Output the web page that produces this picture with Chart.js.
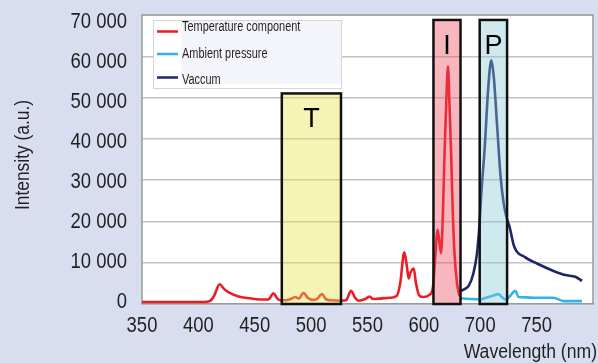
<!DOCTYPE html>
<html>
<head>
<meta charset="utf-8">
<script src="https://cdn.jsdelivr.net/npm/chart.js@4"></script>
<style>
  body { margin: 0; background: #d8deef; }
  #wrap { width: 598px; height: 363px; position: relative; }
</style>
</head>
<body>
<div id="wrap"><canvas id="spectrum" width="598" height="363"></canvas></div>
<script>
// Spectrum data (x in axis units, y in a.u.)
const tempX = [350, 405, 410, 414, 418.8, 423, 427, 435, 445, 455, 462, 466.7, 470, 473, 478, 481, 486, 489, 493.3, 497, 501, 505, 509.6, 513, 518, 527, 531, 535.4, 539, 542, 548, 551.9, 555, 560, 570, 576, 579, 582.6, 585, 586.5, 588, 591, 593, 596, 600, 605, 608, 610, 612.2, 615.2, 617, 618.4, 620, 621.4, 622.5, 624.1, 625.5, 627, 629.4, 631.7];
const tempY = [500, 500, 700, 2000, 4800, 3600, 2800, 1900, 1400, 1100, 1100, 2600, 1300, 900, 900, 1100, 1700, 1300, 2700, 1500, 1000, 1200, 2400, 1200, 900, 800, 900, 3200, 1500, 800, 1200, 1800, 1200, 1300, 1500, 2000, 5000, 12500, 9000, 6200, 7500, 8600, 5000, 2000, 1700, 2200, 4000, 11000, 18000, 12300, 23000, 37000, 50000, 57500, 50000, 37000, 23500, 13000, 5000, 1900];

const ambientX = [631.7, 641, 650, 656, 661, 666.3, 669, 672.2, 676, 681.1, 684, 690, 700, 715, 723.9, 732, 740.2];
const ambientY = [1400, 1200, 1100, 1600, 2000, 2400, 1700, 1100, 1800, 3200, 1700, 1600, 1500, 1500, 700, 700, 700];

const vacuumX = [631.7, 636, 640, 644, 647, 649, 651, 654, 657, 659.8, 662, 665, 668, 671, 674, 676, 680, 690, 700.3, 715, 725.4, 734.3, 740.2];
const vacuumY = [3000, 3600, 4500, 7500, 12000, 18000, 27000, 38000, 52000, 59000, 55000, 43000, 31000, 24000, 20300, 18700, 14000, 11300, 9800, 8000, 7000, 6600, 5600];

// Tick labels as printed on the original axis
const xTickLabels = ['350', '400', '450', '500', '550', '600', '700', '750', ''];

// Highlighted regions
const boxLabels = ['T', 'I', 'P'];
const boxFrom = [474, 608.5, 649.5];
const boxTo = [526.5, 632.5, 673.8];
const boxTop = [51000, 68800, 68800];
const boxFill = ['rgba(230, 225, 70, 0.4)', 'rgba(237, 72, 92, 0.4)', 'rgba(135, 200, 215, 0.4)'];

const sans = '"Liberation Sans", Arial, sans-serif';
const textColor = '#231f20';

function toPoints(xs, ys) {
  return xs.map((x, i) => ({ x: x, y: ys[i] }));
}

function spaced(v) {
  return String(v).replace(/\B(?=(\d{3})+(?!\d))/g, ' ');
}

// condensed text: no narrow face installed, so squeeze Liberation Sans
function narrowText(ctx, text, x, y, size, squeeze, align) {
  ctx.save();
  ctx.translate(x, y);
  ctx.scale(squeeze, 1);
  ctx.font = size + 'px ' + sans;
  ctx.textAlign = align;
  ctx.textBaseline = 'middle';
  ctx.fillStyle = textColor;
  ctx.fillText(text, 0, 0);
  ctx.restore();
}

// Plot background, frame, boxes, tick labels, titles and legend
const extras = {
  id: 'extras',
  beforeDraw(chart) {
    const ctx = chart.ctx, a = chart.chartArea;
    ctx.save();
    ctx.fillStyle = '#ffffff';
    ctx.fillRect(a.left, a.top, a.right - a.left, a.bottom - a.top);
    ctx.restore();
  },
  beforeDatasetsDraw(chart) {
    const ctx = chart.ctx, a = chart.chartArea;
    ctx.save();
    ctx.strokeStyle = '#9a9a9a';
    ctx.lineWidth = 1.5;
    ctx.beginPath();
    ctx.moveTo(a.left, a.bottom);
    ctx.lineTo(a.left, a.top);
    ctx.lineTo(a.right, a.top);
    ctx.lineTo(a.right, a.bottom);
    ctx.stroke();
    ctx.restore();
  },
  afterDatasetsDraw(chart) {
    const ctx = chart.ctx;
    const xs = chart.scales.x, ys = chart.scales.y;
    ctx.save();
    boxLabels.forEach((lab, i) => {
      const l = xs.getPixelForValue(boxFrom[i]);
      const r = xs.getPixelForValue(boxTo[i]);
      const t = ys.getPixelForValue(boxTop[i]);
      const b = ys.getPixelForValue(0);
      ctx.fillStyle = boxFill[i];
      ctx.fillRect(l, t, r - l, b - t);
      ctx.strokeStyle = '#111';
      ctx.lineWidth = 2.5;
      ctx.strokeRect(l, t, r - l, b - t);
      ctx.fillStyle = '#000';
      ctx.font = '27px ' + sans;
      ctx.textAlign = 'center';
      ctx.textBaseline = 'alphabetic';
      ctx.fillText(lab, (l + r) / 2, t + 34);
    });
    ctx.restore();
  },
  afterDraw(chart) {
    const ctx = chart.ctx;
    const xs = chart.scales.x, ys = chart.scales.y;
    const a = chart.chartArea;

    // tick labels
    ys.ticks.forEach(t => {
      const yy = ys.getPixelForValue(t.value) - 2 + 8.7 * (t.value / ys.max);
      narrowText(ctx, spaced(t.value), a.left - 15, yy, 22, 0.84, 'right');
    });
    xs.ticks.forEach((t, i) => {
      narrowText(ctx, xTickLabels[i], xs.getPixelForValue(t.value), 326, 22, 0.84, 'center');
    });

    // axis titles
    narrowText(ctx, 'Wavelength (nm)', 597, 352, 20, 0.88, 'right');
    ctx.save();
    ctx.translate(23, 155);
    ctx.rotate(-Math.PI / 2);
    narrowText(ctx, 'Intensity (a.u.)', 0, 0, 20, 0.87, 'center');
    ctx.restore();

    // legend
    ctx.save();
    ctx.fillStyle = '#ffffff';
    ctx.fillRect(153, 21, 188, 68);
    ctx.fillStyle = '#f3f5fb';
    ctx.fillRect(181, 21, 160, 63);
    ctx.strokeStyle = '#d6d6d6';
    ctx.lineWidth = 1;
    ctx.strokeRect(153.5, 20.5, 188, 68);
    const rows = [31.5, 54, 77.5];
    const textRows = [27.5, 54, 80.5];
    chart.data.datasets.forEach((ds, i) => {
      ctx.strokeStyle = ds.borderColor;
      ctx.lineWidth = 2.5;
      ctx.beginPath();
      ctx.moveTo(157, rows[i]);
      ctx.lineTo(178, rows[i]);
      ctx.stroke();
      narrowText(ctx, ds.label, 182, textRows[i], 14, 0.78, 'left');
    });
    ctx.restore();
  }
};

new Chart('spectrum', {
  type: 'line',
  data: {
    datasets: [
      { label: 'Temperature component', data: toPoints(tempX, tempY), borderColor: '#ed1c24', borderWidth: 2.6 },
      { label: 'Ambient pressure', data: toPoints(ambientX, ambientY), borderColor: '#29b6e9', borderWidth: 2.6 },
      { label: 'Vaccum', data: toPoints(vacuumX, vacuumY), borderColor: '#1f2668', borderWidth: 2.6 }
    ]
  },
  options: {
    responsive: false,
    animation: false,
    maintainAspectRatio: false,
    elements: {
      point: { radius: 0 },
      line: { cubicInterpolationMode: 'monotone' }
    },
    layout: { padding: { left: 0, right: 5, top: 15, bottom: 0 } },
    plugins: {
      legend: { display: false },
      tooltip: { enabled: false }
    },
    scales: {
      x: {
        type: 'linear',
        min: 350,
        max: 750,
        afterFit(scale) { scale.height = 59; },
        ticks: { stepSize: 50, display: false },
        grid: { display: false, drawTicks: false },
        border: { display: true, color: '#9a9a9a', width: 1.5 }
      },
      y: {
        min: 0,
        max: 70000,
        afterFit(scale) { scale.width = 142; },
        ticks: { stepSize: 10000, display: false },
        grid: { color: '#c4c4c4', lineWidth: 1.5, drawTicks: false },
        border: { display: false }
      }
    }
  },
  plugins: [extras]
});
</script>
</body>
</html>
